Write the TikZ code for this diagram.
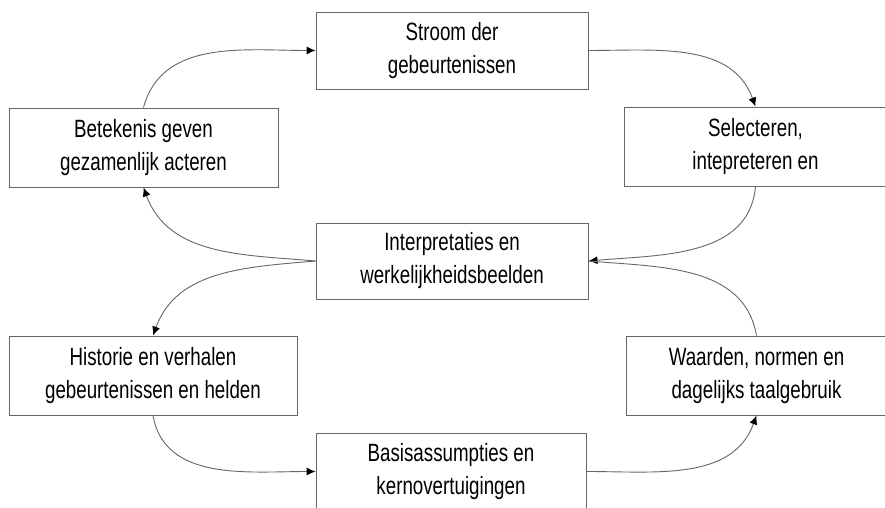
\documentclass[tikz,border=0pt]{standalone}
\usepackage{fontspec}
\setmainfont{Liberation Sans}[FakeStretch=0.75]
\usetikzlibrary{arrows.meta}
\begin{document}
\begin{tikzpicture}[x=1pt,y=1pt,
  box/.style={draw=black!60, line width=0.9pt, inner sep=0pt, align=center,
    text=black, font=\fontsize{25}{33}\selectfont},
  conn/.style={draw=black!60, line width=0.9pt},
  arr/.style={conn, -{Latex[length=9pt,width=8pt,fill=black,color=black]}}]
\useasboundingbox (0,0) rectangle (885,508);
\fill[white] (0,0) rectangle (885,508);
\node[box, minimum width=272pt, minimum height=77pt] (stroom) at (452,457.5) {Stroom der\\gebeurtenissen};
\node[box, minimum width=269pt, minimum height=79pt] (betekenis) at (143.5,360.5) {Betekenis geven\\gezamenlijk acteren};
\node[box, minimum width=263pt, minimum height=79pt] (select) at (755.5,361.5) {Selecteren,\\intepreteren en};
\node[box, minimum width=272pt, minimum height=76pt] (interp) at (452,247) {Interpretaties en\\werkelijkheidsbeelden};
\node[box, minimum width=288pt, minimum height=79pt] (historie) at (153,132.5) {Historie en verhalen\\gebeurtenissen en helden};
\node[box, minimum width=261pt, minimum height=79pt] (waarden) at (756.5,132.5) {Waarden, normen en\\dagelijks taalgebruik};
\node[box, minimum width=270pt, minimum height=77pt] (basis) at (451,36.5) {Basisassumpties en\\kernovertuigingen};
% connectors
\draw[arr] (betekenis.north) to[out=75, in=180] (stroom.west);
\draw[arr] (stroom.east) to[out=0, in=110] (select.north);
\draw[arr] (select.south) to[out=-95, in=5] (interp.east);
\draw[conn] (waarden.north) to[out=100, in=-5] (interp.east);
\draw[arr] (interp.west) to[out=175, in=-70] (betekenis.south);
\draw[arr] (interp.west) to[out=185, in=70] (historie.north);
\draw[arr] (historie.south) to[out=-80, in=180] (basis.west);
\draw[arr] (basis.east) to[out=0, in=-110] (waarden.south);
\end{tikzpicture}
\end{document}
